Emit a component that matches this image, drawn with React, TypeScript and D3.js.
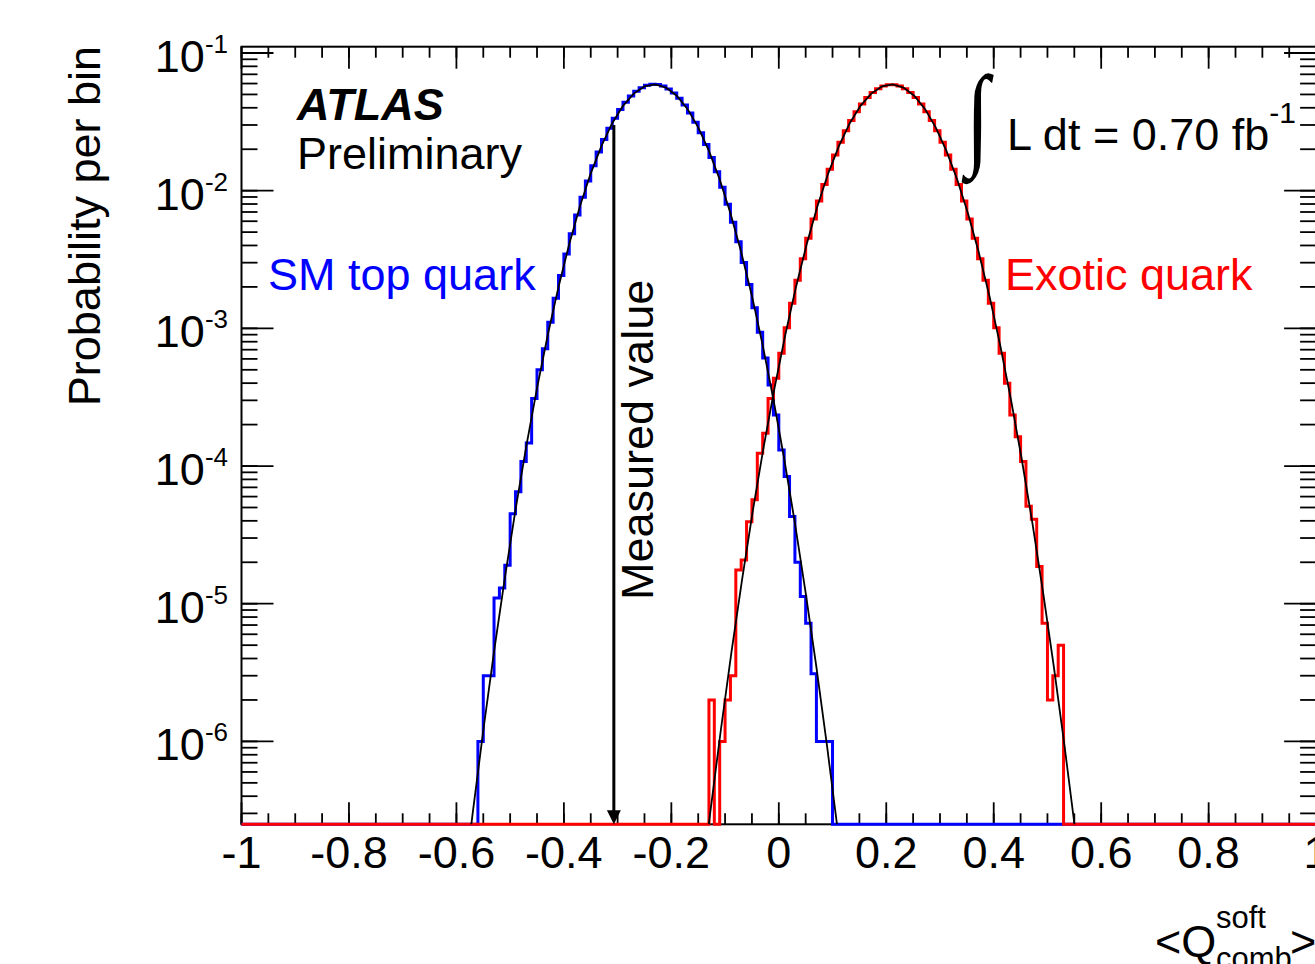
import React from 'react';
import * as d3 from 'd3';

const W = 1315;
const H = 964;

// Histogram binning
const binWidth = 0.01;

// SM top quark histogram (blue): bins starting at smStart
const smStart = -0.56;
const smValues = [
  1.0e-6, 3.0e-6, 3.0e-6, 1.1e-5, 1.3e-5, 1.9e-5, 4.5e-5, 6.5e-5, 1.08e-4, 1.47e-4,
  3.1e-4, 5.0e-4, 7.1e-4, 1.107e-3, 1.655e-3, 2.421e-3, 3.466e-3, 4.86e-3, 6.668e-3, 8.955e-3,
  1.177e-2, 1.515e-2, 1.909e-2, 2.353e-2, 2.84e-2, 3.354e-2, 3.88e-2, 4.391e-2, 4.866e-2, 5.279e-2,
  5.603e-2, 5.824e-2, 5.924e-2, 5.898e-2, 5.749e-2, 5.485e-2, 5.123e-2, 4.682e-2, 4.19e-2, 3.67e-2,
  3.147e-2, 2.64e-2, 2.169e-2, 1.745e-2, 1.373e-2, 1.058e-2, 7.977e-3, 5.89e-3, 4.256e-3, 3.011e-3,
  2.084e-3, 1.413e-3, 9.37e-4, 6.09e-4, 3.87e-4, 2.35e-4, 1.31e-4, 8.4e-5, 4.3e-5, 2.0e-5,
  1.13e-5, 7.2e-6, 3.1e-6, 1.0e-6, 1.0e-6, 1.0e-6,
];

// Exotic quark histogram (red)
const exStart = -0.13;
const exValues = [
  2e-6, 0, 1e-6, 2e-6, 3e-6, 1.76e-5, 2.08e-5, 3.94e-5, 5.7e-5, 1.24e-4,
  1.73e-4, 3.1e-4, 4.35e-4, 6.6e-4, 1.012e-3, 1.519e-3, 2.232e-3, 3.209e-3, 4.519e-3, 6.225e-3,
  8.4e-3, 1.109e-2, 1.433e-2, 1.813e-2, 2.245e-2, 2.721e-2, 3.227e-2, 3.75e-2, 4.262e-2, 4.742e-2,
  5.166e-2, 5.508e-2, 5.749e-2, 5.872e-2, 5.872e-2, 5.749e-2, 5.508e-2, 5.166e-2, 4.742e-2, 4.262e-2,
  3.75e-2, 3.227e-2, 2.721e-2, 2.245e-2, 1.813e-2, 1.433e-2, 1.109e-2, 8.4e-3, 6.225e-3, 4.519e-3,
  3.209e-3, 2.232e-3, 1.519e-3, 1.012e-3, 6.6e-4, 4.0e-4, 2.35e-4, 1.63e-4, 1.08e-4, 5.1e-5,
  4.1e-5, 1.86e-5, 7.2e-6, 2e-6, 3e-6, 5e-6,
];

// Fit curves (black)
const smFit: [number, number][] = [
  [-0.61, 1.38e-8], [-0.59, 6.67e-8], [-0.57, 2.95e-7], [-0.55, 1.2e-6], [-0.53, 4.48e-6],
  [-0.51, 1.53e-5], [-0.49, 4.82e-5], [-0.47, 1.39e-4], [-0.45, 3.68e-4], [-0.43, 8.95e-4],
  [-0.41, 2.0e-3], [-0.39, 4.1e-3], [-0.37, 7.73e-3], [-0.35, 1.337e-2], [-0.33, 2.118e-2],
  [-0.31, 3.09e-2], [-0.29, 4.13e-2], [-0.27, 5.07e-2], [-0.25, 5.715e-2], [-0.23, 5.916e-2],
  [-0.21, 5.61e-2], [-0.19, 4.898e-2], [-0.17, 3.926e-2], [-0.15, 2.884e-2], [-0.13, 1.945e-2],
  [-0.11, 1.205e-2], [-0.09, 6.86e-3], [-0.07, 3.58e-3], [-0.05, 1.72e-3], [-0.03, 7.55e-4],
  [-0.01, 3.05e-4], [0.01, 1.13e-4], [0.03, 3.85e-5], [0.05, 1.2e-5], [0.07, 3.46e-6],
  [0.09, 9.12e-7], [0.11, 2.21e-7], [0.13, 4.9e-8],
];
const exFit: [number, number][] = [
  [-0.168, 1.38e-8], [-0.148, 6.67e-8], [-0.128, 2.95e-7], [-0.108, 1.2e-6], [-0.088, 4.48e-6],
  [-0.068, 1.53e-5], [-0.048, 4.82e-5], [-0.028, 1.39e-4], [-0.008, 3.68e-4], [0.012, 8.95e-4],
  [0.032, 2.0e-3], [0.052, 4.1e-3], [0.072, 7.73e-3], [0.092, 1.337e-2], [0.112, 2.118e-2],
  [0.132, 3.09e-2], [0.152, 4.13e-2], [0.172, 5.07e-2], [0.192, 5.715e-2], [0.212, 5.916e-2],
  [0.232, 5.61e-2], [0.252, 4.898e-2], [0.272, 3.926e-2], [0.292, 2.884e-2], [0.312, 1.945e-2],
  [0.332, 1.205e-2], [0.352, 6.86e-3], [0.372, 3.58e-3], [0.392, 1.72e-3], [0.412, 7.55e-4],
  [0.432, 3.05e-4], [0.452, 1.13e-4], [0.472, 3.85e-5], [0.492, 1.2e-5], [0.512, 3.46e-6],
  [0.532, 9.12e-7], [0.552, 2.21e-7], [0.572, 4.9e-8],
];

// Axes
const xDomain = [-1, 1];
const yDomain = [2.5e-7, 0.1111];
const xTickValues = [-1, -0.8, -0.6, -0.4, -0.2, 0, 0.2, 0.4, 0.6, 0.8, 1];
const xTickLabels = ['-1', '-0.8', '-0.6', '-0.4', '-0.2', '0', '0.2', '0.4', '0.6', '0.8', '1'];
const yDecades = [1e-1, 1e-2, 1e-3, 1e-4, 1e-5, 1e-6];
const yDecadeExponents = ['-1', '-2', '-3', '-4', '-5', '-6'];

const measuredValue = -0.307;
const measuredTop = 0.03;

const FONT = "'Liberation Sans', Arial, Helvetica, sans-serif";

export default function App() {
  const L = 241.5, R = 1316.1, T = 46.7, B = 824.3;
  const x = d3.scaleLinear().domain(xDomain).range([L, R]);
  const y = d3.scaleLog().domain(yDomain).range([B, T]);
  const yv = (v: number) => (v <= yDomain[0] ? B : y(v));

  const histPath = (start: number, values: number[]) => {
    const pts: [number, number][] = [[xDomain[0], 0], [start, 0]];
    values.forEach((v, i) => {
      const a = start + i * binWidth;
      pts.push([a, v], [a + binWidth, v]);
    });
    const end = start + values.length * binWidth;
    pts.push([end, 0], [xDomain[1], 0]);
    return d3.line<[number, number]>().x((p) => x(p[0])).y((p) => yv(p[1]))(pts) || '';
  };

  const fitPath = (pts: [number, number][]) =>
    d3.line<[number, number]>().x((p) => x(p[0])).y((p) => y(p[1]))(pts) || '';

  const xMinor = x.ticks(40);
  const yMinor = y.ticks().filter((t) => t >= yDomain[0] && t <= yDomain[1]);

  const ax = x(measuredValue);

  return (
    <svg width={W} height={H} style={{ position: 'absolute', left: 0, top: 0, background: '#fff' }}
      fontFamily={FONT}>
      <defs>
        <clipPath id="plotclip">
          <rect x={L} y={T} width={R - L} height={B - T} />
        </clipPath>
      </defs>
      <rect x={0} y={0} width={W} height={H} fill="#fff" />
      {/* frame */}
      <rect x={L} y={T} width={R - L} height={B - T} fill="none" stroke="#000" strokeWidth={2} />
      {/* x ticks */}
      {xMinor.map((t, i) => (
        <g key={'xm' + i}>
          <line x1={x(t)} x2={x(t)} y1={B} y2={B - 11} stroke="#000" strokeWidth={1.8} />
          <line x1={x(t)} x2={x(t)} y1={T} y2={T + 11} stroke="#000" strokeWidth={1.8} />
        </g>
      ))}
      {xTickValues.map((t, i) => (
        <g key={'xM' + i}>
          <line x1={x(t)} x2={x(t)} y1={B} y2={B - 22} stroke="#000" strokeWidth={1.8} />
          <line x1={x(t)} x2={x(t)} y1={T} y2={T + 22} stroke="#000" strokeWidth={1.8} />
          <text x={x(t)} y={868} fontSize={45} textAnchor="middle" fill="#000">{xTickLabels[i]}</text>
        </g>
      ))}
      {/* y ticks */}
      {yMinor.map((t, i) => (
        <g key={'ym' + i}>
          <line x1={L} x2={L + 16} y1={y(t)} y2={y(t)} stroke="#000" strokeWidth={1.8} />
          <line x1={R} x2={R - 16} y1={y(t)} y2={y(t)} stroke="#000" strokeWidth={1.8} />
        </g>
      ))}
      {yDecades.map((t, i) => (
        <g key={'yM' + i}>
          <line x1={L} x2={L + 32} y1={y(t)} y2={y(t)} stroke="#000" strokeWidth={1.8} />
          <line x1={R} x2={R - 32} y1={y(t)} y2={y(t)} stroke="#000" strokeWidth={1.8} />
          <text x={228} y={y(t) + 19} fontSize={45} textAnchor="end" fill="#000">
            10<tspan fontSize={26} dy={-19}>{yDecadeExponents[i]}</tspan>
          </text>
        </g>
      ))}
      {/* histograms */}
      <path d={histPath(smStart, smValues)} fill="none" stroke="#0000ff" strokeWidth={3} />
      <path d={histPath(exStart, exValues)} fill="none" stroke="#ff0000" strokeWidth={3} />
      {/* fits */}
      <g clipPath="url(#plotclip)">
        <path d={fitPath(smFit)} fill="none" stroke="#000" strokeWidth={1.8} />
        <path d={fitPath(exFit)} fill="none" stroke="#000" strokeWidth={1.8} />
      </g>
      {/* measured value arrow */}
      <line x1={ax} x2={ax} y1={y(measuredTop)} y2={B - 12} stroke="#000" strokeWidth={3} />
      <path d={`M${ax - 7},${B - 14} L${ax + 7},${B - 14} L${ax},${B} Z`} fill="#000" />
      <text transform={`translate(653,600) rotate(-90)`} fontSize={45} fill="#000">Measured value</text>
      {/* labels */}
      <text x={297} y={120} fontSize={45} fontWeight="bold" fontStyle="italic" fill="#000">ATLAS</text>
      <text x={297} y={169} fontSize={45} fill="#000">Preliminary</text>
      <text x={268} y={290} fontSize={45} fill="#0000ff">SM top quark</text>
      <text x={1005} y={290} fontSize={45} fill="#ff0000">Exotic quark</text>
      <text transform="translate(966,154) scale(0.75,1)" fontSize={113}
        fontFamily="'Liberation Serif', serif" fill="#000">∫</text>
      <text x={1007} y={150} fontSize={45} fill="#000">
        L dt = 0.70 fb<tspan fontSize={30} dy={-27}>-1</tspan>
      </text>
      {/* axis titles */}
      <text transform="translate(100,46) rotate(-90)" fontSize={45} textAnchor="end" fill="#000">Probability per bin</text>
      <text x={1155} y={957} fontSize={45} fill="#000">&lt;Q</text>
      <text x={1216} y={928} fontSize={31} fill="#000">soft</text>
      <text x={1216} y={969} fontSize={31} fill="#000">comb</text>
      <text x={1290} y={957} fontSize={45} fill="#000">&gt;</text>
    </svg>
  );
}
